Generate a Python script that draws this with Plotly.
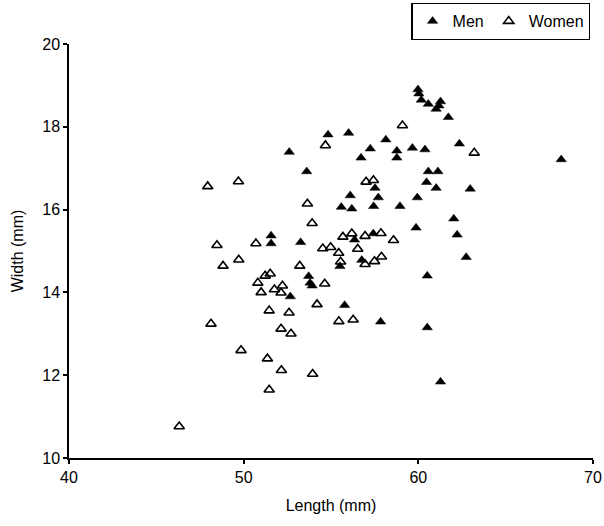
import plotly.graph_objects as go

men_length = [52.61, 53.61, 51.57, 51.57, 53.26, 56.35, 56.10, 55.59, 56.19, 55.51,
              53.72, 53.80, 53.92, 52.67, 55.78, 59.98, 60.03, 60.17, 60.57, 61.27,
              61.18, 61.02, 61.72, 54.83, 56.01, 58.14, 57.25, 56.72, 58.77, 58.77,
              59.66, 60.38, 62.35, 60.57, 61.12, 57.52, 60.47, 61.02, 62.97, 57.71,
              59.94, 57.44, 58.95, 62.03, 59.87, 62.22, 57.42, 62.74, 56.76, 60.51,
              57.84, 60.51, 61.27, 68.18]
men_width = [17.39, 16.92, 15.37, 15.18, 15.21, 15.27, 16.34, 16.06, 16.02, 14.63,
             14.39, 14.23, 14.16, 13.90, 13.69, 18.90, 18.80, 18.65, 18.55, 18.61,
             18.51, 18.43, 18.23, 17.81, 17.85, 17.69, 17.47, 17.25, 17.42, 17.25,
             17.49, 17.45, 17.59, 16.92, 16.92, 16.52, 16.66, 16.52, 16.50, 16.29,
             16.29, 16.08, 16.08, 15.78, 15.56, 15.39, 15.42, 14.85, 14.78, 14.40,
             13.29, 13.15, 11.84, 17.21]

women_length = [47.94, 49.70, 53.65, 53.92, 48.47, 50.70, 55.68, 56.19, 56.95, 57.86,
                58.58, 54.53, 54.98, 55.44, 56.53, 55.55, 56.95, 57.49, 57.89, 48.82,
                49.72, 53.21, 51.23, 51.52, 50.81, 51.00, 51.76, 52.22, 52.14, 54.64,
                54.20, 51.46, 52.60, 48.13, 52.14, 52.71, 49.85, 51.36, 52.16, 51.46,
                46.31, 53.95, 55.45, 56.27, 59.09, 54.68, 63.20, 57.01, 57.43]
women_width = [16.56, 16.68, 16.14, 15.67, 15.14, 15.18, 15.34, 15.42, 15.36, 15.43,
               15.26, 15.06, 15.09, 14.95, 15.05, 14.74, 14.68, 14.75, 14.86, 14.64,
               14.79, 14.64, 14.40, 14.45, 14.23, 14.00, 14.07, 14.16, 13.99, 14.21,
               13.71, 13.56, 13.51, 13.24, 13.12, 13.00, 12.60, 12.40, 12.12, 11.65,
               10.76, 12.03, 13.30, 13.34, 18.03, 17.55, 17.37, 16.67, 16.71]

x_ticks = [40, 50, 60, 70]
y_ticks = [10, 12, 14, 16, 18, 20]

FONT = "Liberation Sans, Arial, sans-serif"

fig = go.Figure()
fig.add_trace(go.Scatter(
    x=men_length, y=men_width, mode="markers", name="Men",
    marker=dict(symbol="triangle-up", size=9, color="black",
                line=dict(color="black", width=0.5)),
))
fig.add_trace(go.Scatter(
    x=women_length, y=women_width, mode="markers", name="Women",
    marker=dict(symbol="triangle-up-open", size=9, color="black",
                line=dict(color="black", width=1.6)),
))

axis_common = dict(
    showgrid=False, zeroline=False, showline=True, linecolor="black", linewidth=1.5,
    ticks="outside", ticklen=4, tickwidth=1.5, tickcolor="black",
    tickfont=dict(family=FONT, size=16, color="black"),
    mirror=False, automargin=False, ticklabeloverflow="allow",
)

fig.update_layout(
    width=604, height=526,
    margin=dict(l=69, r=11, t=44, b=68, autoexpand=False),
    paper_bgcolor="white", plot_bgcolor="white",
    font=dict(family=FONT, size=16, color="black"),
    xaxis=dict(range=[40, 70], tickvals=x_ticks, ticktext=[str(v) for v in x_ticks],
               title=dict(text="Length (mm)", font=dict(family=FONT, size=16)),
               **axis_common),
    yaxis=dict(range=[10, 20], tickvals=y_ticks, ticktext=[str(v) for v in y_ticks],
               title=dict(text="Width (mm)", font=dict(family=FONT, size=16)),
               **axis_common),
    legend=dict(orientation="h", x=0.995, xanchor="right", y=1.099, yanchor="top",
                bordercolor="black", borderwidth=1.2, bgcolor="white",
                font=dict(family=FONT, size=16, color="black"),
                itemwidth=30, tracegroupgap=0),
    showlegend=True,
)

fig.write_html("out.html", config={"displayModeBar": False},
               post_script="document.body.style.margin='0';document.body.style.overflow='hidden';")
